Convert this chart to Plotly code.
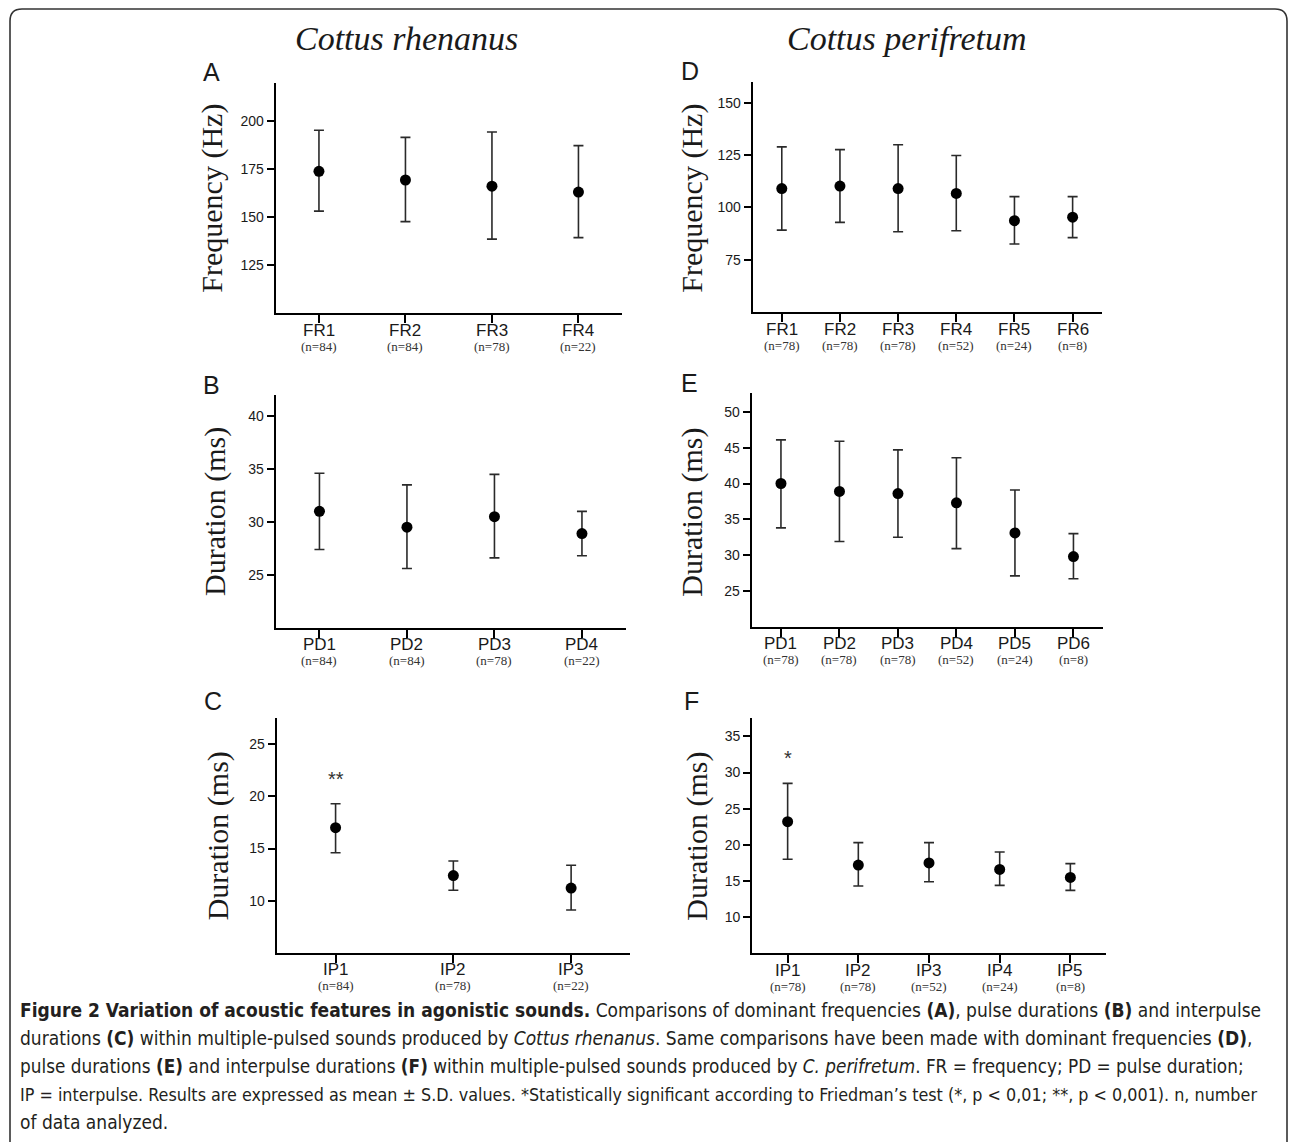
import plotly.graph_objects as go

W, H = 1292, 1142

# ---------------- data ----------------
a_cats = ["FR1", "FR2", "FR3", "FR4"]
a_n = ["(n=84)", "(n=84)", "(n=78)", "(n=22)"]
a_mean = [173.8, 169.3, 166.1, 163.0]
a_hi = [195.2, 191.5, 194.3, 187.2]
a_lo = [153.1, 147.6, 138.5, 139.3]

d_cats = ["FR1", "FR2", "FR3", "FR4", "FR5", "FR6"]
d_n = ["(n=78)", "(n=78)", "(n=78)", "(n=52)", "(n=24)", "(n=8)"]
d_mean = [109.0, 110.2, 109.0, 106.7, 93.7, 95.4]
d_hi = [128.9, 127.6, 129.9, 124.8, 105.2, 105.2]
d_lo = [89.2, 92.9, 88.4, 88.9, 82.6, 85.6]

b_cats = ["PD1", "PD2", "PD3", "PD4"]
b_n = ["(n=84)", "(n=84)", "(n=78)", "(n=22)"]
b_mean = [31.0, 29.5, 30.5, 28.9]
b_hi = [34.6, 33.5, 34.5, 31.0]
b_lo = [27.4, 25.6, 26.6, 26.8]

e_cats = ["PD1", "PD2", "PD3", "PD4", "PD5", "PD6"]
e_n = ["(n=78)", "(n=78)", "(n=78)", "(n=52)", "(n=24)", "(n=8)"]
e_mean = [40.0, 38.9, 38.6, 37.3, 33.1, 29.8]
e_hi = [46.1, 45.9, 44.7, 43.6, 39.1, 33.0]
e_lo = [33.8, 31.9, 32.5, 30.9, 27.1, 26.7]

c_cats = ["IP1", "IP2", "IP3"]
c_n = ["(n=84)", "(n=78)", "(n=22)"]
c_mean = [17.0, 12.4, 11.2]
c_hi = [19.3, 13.8, 13.4]
c_lo = [14.6, 11.0, 9.1]

f_cats = ["IP1", "IP2", "IP3", "IP4", "IP5"]
f_n = ["(n=78)", "(n=78)", "(n=52)", "(n=24)", "(n=8)"]
f_mean = [23.2, 17.2, 17.5, 16.6, 15.5]
f_hi = [28.5, 20.3, 20.3, 19.0, 17.4]
f_lo = [18.0, 14.3, 14.9, 14.4, 13.7]

# significance marks: (category, text, y value)
c_sig = ("IP1", "**", 21.7)
f_sig = ("IP1", "*", 32.0)

SERIF = "Liberation Serif, Times New Roman, serif"
SANS = "Liberation Sans, Arial, sans-serif"
INK = "#1a1a1a"

# panel layout in pixels: left, right, top, bottom
panels = [
    dict(key="A", cats=a_cats, n=a_n, mean=a_mean, hi=a_hi, lo=a_lo,
         box=(275.7, 621.7, 82.7, 313.0), yrange=[100, 220], ticks=[125, 150, 175, 200],
         ytitle="Frequency (Hz)", title_xy=(211.7, 198), letter_xy=(211, 72)),
    dict(key="D", cats=d_cats, n=d_n, mean=d_mean, hi=d_hi, lo=d_lo,
         box=(752.7, 1101.7, 81.7, 312.3), yrange=[50, 160], ticks=[75, 100, 125, 150],
         ytitle="Frequency (Hz)", title_xy=(691.7, 198), letter_xy=(690, 71)),
    dict(key="B", cats=b_cats, n=b_n, mean=b_mean, hi=b_hi, lo=b_lo,
         box=(275.7, 625.7, 395.0, 627.7), yrange=[20, 42], ticks=[25, 30, 35, 40],
         ytitle="Duration (ms)", title_xy=(215, 512), letter_xy=(211.7, 385)),
    dict(key="E", cats=e_cats, n=e_n, mean=e_mean, hi=e_hi, lo=e_lo,
         box=(751.7, 1102.7, 393.3, 626.7), yrange=[20, 52.6], ticks=[25, 30, 35, 40, 45, 50],
         ytitle="Duration (ms)", title_xy=(691.7, 512), letter_xy=(690, 383)),
    dict(key="C", cats=c_cats, n=c_n, mean=c_mean, hi=c_hi, lo=c_lo,
         box=(276.7, 630.0, 718.3, 952.7), yrange=[5, 27.5], ticks=[10, 15, 20, 25],
         ytitle="Duration (ms)", title_xy=(218.3, 836), letter_xy=(213, 701), sig=c_sig),
    dict(key="F", cats=f_cats, n=f_n, mean=f_mean, hi=f_hi, lo=f_lo,
         box=(752.3, 1105.7, 718.3, 953.3), yrange=[5, 37.5], ticks=[10, 15, 20, 25, 30, 35],
         ytitle="Duration (ms)", title_xy=(696.7, 836), letter_xy=(691.7, 701), sig=f_sig),
]


def px_x(x):
    return x / W


def px_y(y):
    return 1 - y / H


fig = go.Figure()
annotations = []

for i, p in enumerate(panels, start=1):
    sfx = "" if i == 1 else str(i)
    xa, ya = "x" + sfx, "y" + sfx
    l, r, t, b = p["box"]
    plus = [h - m for h, m in zip(p["hi"], p["mean"])]
    minus = [m - lo for m, lo in zip(p["mean"], p["lo"])]
    fig.add_trace(go.Scatter(
        x=p["cats"], y=p["mean"], mode="markers",
        marker=dict(color="black", size=11),
        error_y=dict(type="data", symmetric=False, array=plus, arrayminus=minus,
                     color="#2a2a2a", thickness=1.6, width=5),
        xaxis=xa, yaxis=ya, showlegend=False, hoverinfo="skip",
    ))
    fig.layout["xaxis" + sfx] = dict(
        domain=[px_x(l), px_x(r)], anchor=ya, type="category",
        categoryorder="array", categoryarray=p["cats"],
        range=[-0.5, len(p["cats"]) - 0.5],
        showgrid=False, zeroline=False, showline=True, linecolor="black", linewidth=2.2,
        ticks="outside", ticklen=8, tickwidth=2, tickcolor="black",
        showticklabels=False, fixedrange=True,
    )
    fig.layout["yaxis" + sfx] = dict(
        domain=[px_y(b), px_y(t)], anchor=xa, range=p["yrange"],
        tickvals=p["ticks"], showgrid=False, zeroline=False,
        showline=True, linecolor="black", linewidth=2.2,
        ticks="outside", ticklen=7, tickwidth=1.6, tickcolor="black",
        tickfont=dict(family=SANS, size=14, color=INK), fixedrange=True,
    )
    # category names and n labels
    for cat, n in zip(p["cats"], p["n"]):
        annotations.append(dict(
            x=cat, y=0, xref=xa, yref=ya + " domain", text=cat, showarrow=False,
            xanchor="center", yanchor="middle", yshift=-17,
            font=dict(family=SANS, size=17, color=INK),
        ))
        annotations.append(dict(
            x=cat, y=0, xref=xa, yref=ya + " domain", text=n, showarrow=False,
            xanchor="center", yanchor="middle", yshift=-33,
            font=dict(family=SERIF, size=13, color="#333"),
        ))
    # y axis title
    tx, ty = p["title_xy"]
    annotations.append(dict(
        x=px_x(tx), y=px_y(ty), xref="paper", yref="paper", text=p["ytitle"],
        textangle=-90, showarrow=False, xanchor="center", yanchor="middle",
        font=dict(family=SERIF, size=30, color=INK),
    ))
    # panel letter
    lx, ly = p["letter_xy"]
    annotations.append(dict(
        x=px_x(lx), y=px_y(ly), xref="paper", yref="paper", text=p["key"],
        showarrow=False, xanchor="center", yanchor="middle",
        font=dict(family=SANS, size=25, color=INK),
    ))
    if "sig" in p:
        cat, txt, yv = p["sig"]
        annotations.append(dict(
            x=cat, y=yv, xref=xa, yref=ya, text=txt, showarrow=False,
            xanchor="center", yanchor="middle", font=dict(family=SANS, size=20, color="#333"),
        ))

# species titles
annotations.append(dict(x=px_x(406), y=px_y(38), xref="paper", yref="paper",
                        text="<i>Cottus rhenanus</i>", showarrow=False,
                        xanchor="center", yanchor="middle",
                        font=dict(family=SERIF, size=34, color=INK)))
annotations.append(dict(x=px_x(906.7), y=px_y(38), xref="paper", yref="paper",
                        text="<i>Cottus perifretum</i>", showarrow=False,
                        xanchor="center", yanchor="middle",
                        font=dict(family=SERIF, size=34, color=INK)))

# caption
caption_lines = [
    "<b>Figure 2 Variation of acoustic features in agonistic sounds.</b> Comparisons of dominant frequencies <b>(A)</b>, pulse durations <b>(B)</b> and interpulse",
    "durations <b>(C)</b> within multiple-pulsed sounds produced by <i>Cottus rhenanus</i>. Same comparisons have been made with dominant frequencies <b>(D)</b>,",
    "pulse durations <b>(E)</b> and interpulse durations <b>(F)</b> within multiple-pulsed sounds produced by <i>C. perifretum</i>. FR = frequency; PD = pulse duration;",
    "IP = interpulse. Results are expressed as mean ± S.D. values. *Statistically significant according to Friedman\u2019s test (*, p &lt; 0,01; **, p &lt; 0,001). n, number",
    "of data analyzed.",
]
caption_y = [1010, 1038, 1066, 1094, 1122]
caption_size = [19, 19, 18.8, 17.8, 19]
for txt, cy, cs in zip(caption_lines, caption_y, caption_size):
    annotations.append(dict(
        x=px_x(18), y=px_y(cy), xref="paper", yref="paper", text=txt,
        showarrow=False, xanchor="left", yanchor="middle",
        font=dict(family="DejaVu Sans Condensed, Liberation Sans Narrow, Liberation Sans",
                  size=cs, color="#231f20"),
    ))

# rounded frame
x0, x1, yt, yb, rr = 10, 1287, 9, 1160, 12


def P(x, y):
    return f"{px_x(x):.5f},{px_y(y):.5f}"


frame_path = (f"M {P(x0, yb)} L {P(x0, yt + rr)} Q {P(x0, yt)} {P(x0 + rr, yt)} "
              f"L {P(x1 - rr, yt)} Q {P(x1, yt)} {P(x1, yt + rr)} L {P(x1, yb)}")

fig.update_layout(
    width=W, height=H, margin=dict(l=0, r=0, t=0, b=0),
    paper_bgcolor="white", plot_bgcolor="white",
    annotations=annotations,
    shapes=[dict(type="path", path=frame_path, xref="paper", yref="paper",
                 line=dict(color="#333", width=1.6))],
    showlegend=False,
)

fig.write_html("out.html", config={"displayModeBar": False},
               post_script="document.body.style.margin='0';document.body.style.overflow='hidden';")
